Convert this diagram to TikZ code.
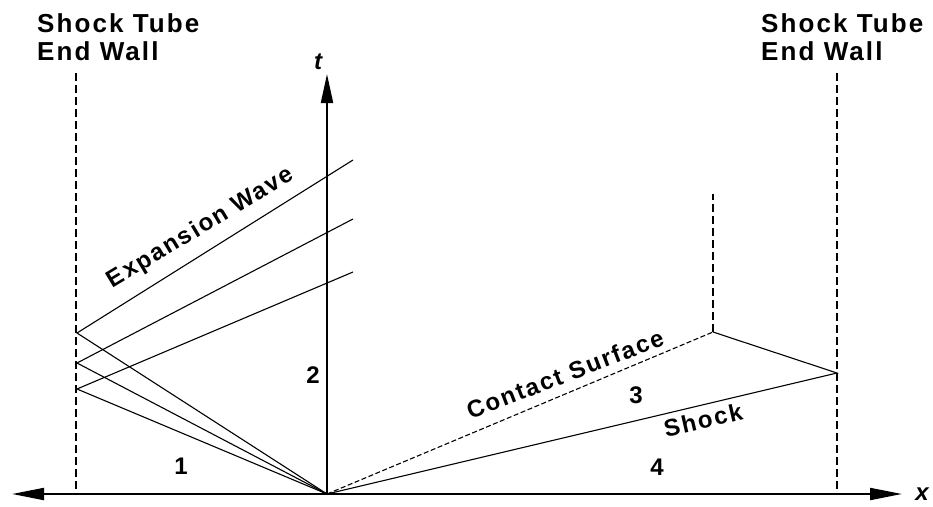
\documentclass[tikz,border=0pt]{standalone}
\usepackage{fontspec}
\setmainfont{Liberation Sans}
\newfontfamily\lblfont[LetterSpace=8]{Liberation Sans}
\usetikzlibrary{arrows.meta}
\begin{document}
\begin{tikzpicture}[x=1pt,y=-1pt,
  lbl/.style={font=\lblfont\bfseries\fontsize{24}{26}\selectfont, inner sep=0pt},
  toplbl/.style={font=\lblfont\bfseries\fontsize{26}{28}\selectfont, inner sep=0pt, anchor=base west},
  axlbl/.style={font=\bfseries\itshape\fontsize{24}{26}\selectfont, inner sep=0pt},
  axis/.style={line width=2pt},
  wave/.style={line width=1.1pt},
  wall/.style={line width=1.4pt, dash pattern=on 8pt off 4pt},
  contact/.style={line width=1.1pt, dash pattern=on 5pt off 2.5pt}
  ]
\useasboundingbox (0,0) rectangle (933,506);
% coordinates
\coordinate (O) at (327,494);
\coordinate (xl) at (12,494);
\coordinate (xr) at (902,494);
\coordinate (tt) at (327,74);
\coordinate (LWt) at (76,73);
\coordinate (LWb) at (76,494);
\coordinate (RWt) at (837,73);
\coordinate (RWb) at (837,494);
\coordinate (A1) at (77,333);
\coordinate (A2) at (77,363);
\coordinate (A3) at (77,389);
\coordinate (E1) at (353,160);
\coordinate (E2) at (353,219);
\coordinate (E3) at (353,272);
\coordinate (C) at (713,332);
\coordinate (Ctop) at (713,194);
\coordinate (R) at (837,373);
% walls
\draw[wall] (LWt) -- (LWb);
\draw[wall] (RWt) -- (RWb);
% axes
\draw[axis, {Triangle[length=32pt,width=12pt]}-{Triangle[length=32pt,width=12pt]}] (xl) -- (xr);
\draw[axis, -{Triangle[length=29pt,width=12pt]}] (O) -- (tt);
% expansion wave
\draw[wave] (O) -- (A1) -- (E1);
\draw[wave] (O) -- (A2) -- (E2);
\draw[wave] (O) -- (A3) -- (E3);
% contact surface and shock
\draw[contact] (O) -- (C);
\draw[wall] (C) -- (Ctop);
\draw[wave] (O) -- (R) -- (C);
% labels
\node[toplbl] (l1) at (37,32) {Shock Tube};
\node[toplbl] (l2) at (37,60) {End Wall};
\node[toplbl] (r1) at (761,32) {Shock Tube};
\node[toplbl] (r2) at (761,60) {End Wall};
\node[axlbl] (tl) at (318,62) {t};
\node[axlbl] (xlb) at (922,494) {x};
\node[lbl, rotate=31] (ew) at (201,228) {Expansion Wave};
\node[lbl, rotate=21] (cs) at (565,374) {Contact Surface};
\node[lbl, rotate=13] (sh) at (703,420) {Shock};
\node[lbl] (n1) at (181,466) {1};
\node[lbl] (n2) at (313,375) {2};
\node[lbl] (n3) at (636,395) {3};
\node[lbl] (n4) at (657,467) {4};
\end{tikzpicture}
\end{document}
